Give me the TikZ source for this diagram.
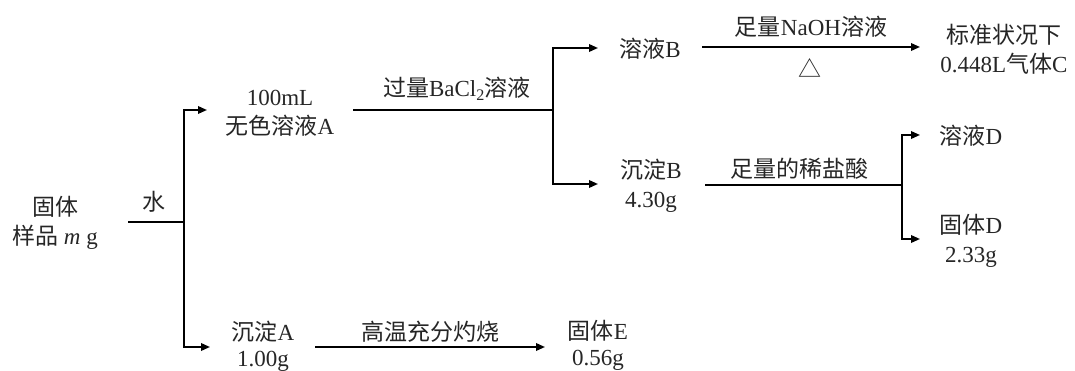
\documentclass[tikz,border=0pt]{standalone}
\usepackage{fontspec}
\setmainfont{Liberation Serif}
\newfontfamily\cjk{Noto Sans CJK SC}
\usetikzlibrary{arrows.meta}
\begin{document}
\begin{tikzpicture}[x=1pt,y=-1pt,
  txt/.style={inner sep=0pt,align=center,text=black!85,font=\fontsize{23}{29}\selectfont},
  tight/.style={font=\fontsize{23}{26}\selectfont},
  conn/.style={line width=1.8pt,black},
  arr/.style={conn,-{Triangle[length=9pt,width=7.5pt]}}]
\useasboundingbox (0,0) rectangle (1075,371);
% text nodes
\node[txt] (S) at (55,223) {{\cjk 固体}\\{\cjk 样品} \textit{m} g};
\node[txt] (A) at (280,113) {100mL\\{\cjk 无色溶液}A};
\node[txt,tight] (sA) at (263,346) {{\cjk 沉淀}A\\1.00g};
\node[txt,tight] (E) at (598,345) {{\cjk 固体}E\\0.56g};
\node[txt] (B) at (650,49) {{\cjk 溶液}B};
\node[txt] (sB) at (651,186) {{\cjk 沉淀}B\\4.30g};
\node[txt] (C) at (1004,49) {{\cjk 标准状况下}\\0.448L{\cjk 气体}C};
\node[txt] (D) at (971,136) {{\cjk 溶液}D};
\node[txt] (sD) at (971,241) {{\cjk 固体}D\\2.33g};
% labels
\node[txt] (lw) at (154,202) {{\cjk 水}};
\node[txt] (lBa) at (457,89) {{\cjk 过量}BaCl\textsubscript{2}{\cjk 溶液}};
\node[txt] (lNa) at (811,27) {{\cjk 足量}NaOH{\cjk 溶液}};
\node[txt] (lheat) at (810,68) {{\cjk △}};
\node[txt] (lHCl) at (799,169) {{\cjk 足量的稀盐酸}};
\node[txt] (lburn) at (430,332) {{\cjk 高温充分灼烧}};
% connector points
\coordinate (sOut) at (128,222);
\coordinate (j1) at (184,222);
\coordinate (aIn) at (207,110);
\coordinate (saIn) at (210,347);
\coordinate (aOut) at (353,110);
\coordinate (j2) at (553,110);
\coordinate (bIn) at (598,48);
\coordinate (sbIn) at (598,184);
\coordinate (bOut) at (702,47);
\coordinate (cIn) at (920,47);
\coordinate (sbOut) at (705,185);
\coordinate (j3) at (902,185);
\coordinate (dIn) at (920,135);
\coordinate (sdIn) at (920,239);
\coordinate (saOut) at (315,347);
\coordinate (eIn) at (545,347);
% connectors
\draw[conn] (sOut) -- (j1);
\draw[arr] (j1) |- (aIn);
\draw[arr] (j1) |- (saIn);
\draw[conn] (aOut) -- (j2);
\draw[arr] (j2) |- (bIn);
\draw[arr] (j2) |- (sbIn);
\draw[arr] (bOut) -- (cIn);
\draw[conn] (sbOut) -- (j3);
\draw[arr] (j3) |- (dIn);
\draw[arr] (j3) |- (sdIn);
\draw[arr] (saOut) -- (eIn);
\end{tikzpicture}
\end{document}
